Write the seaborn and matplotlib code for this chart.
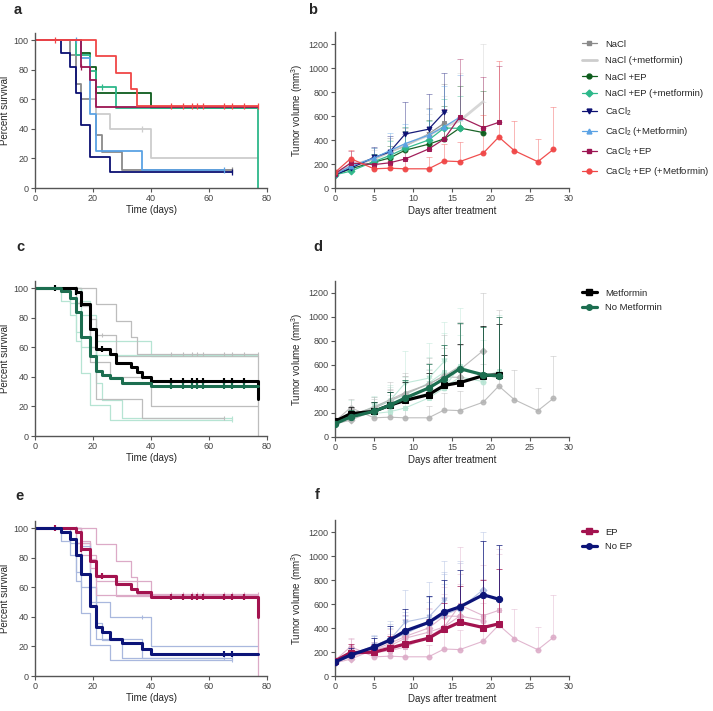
import numpy as np
import matplotlib
matplotlib.use("Agg")
import matplotlib.pyplot as plt
from matplotlib.lines import Line2D
import seaborn as sns

sns.set_style("white")
plt.rcParams['font.family'] = ['Liberation Sans', 'DejaVu Sans']
plt.rcParams['mathtext.default'] = 'regular'

# ---------------- Survival data (Kaplan-Meier steps) ----------------
groups = ["NaCl", "NaCl (+metformin)", "NaCl +EP", "NaCl +EP (+metformin)",
          "CaCl$_2$", "CaCl$_2$ (+Metformin)", "CaCl$_2$ +EP", "CaCl$_2$ +EP (+Metformin)"]
colors = ["#8a8a8a", "#cdcdcd", "#0d5c1c", "#2db88a",
          "#0b0f72", "#5ba2e4", "#9c1452", "#f04646"]
metformin = [False, True, False, True, False, True, False, True]
ep = [False, False, True, True, False, False, True, True]

km_t = [
    [0, 12, 14, 16, 21, 23, 30, 68],
    [0, 14, 19, 21, 26, 40, 77],
    [0, 16, 19, 21, 40, 77],
    [0, 14, 19, 21, 28, 77],
    [0, 9, 12, 14, 16, 19, 26, 68],
    [0, 16, 19, 21, 37, 65],
    [0, 16, 19, 21, 77],
    [0, 21, 28, 33, 35, 77],
]
km_s = [
    [100, 90, 70, 60, 36, 24, 12, 12],
    [100, 90, 60, 50, 40, 20, 20],
    [100, 91, 82, 64, 54, 54],
    [100, 90, 79, 68, 54, 0],
    [100, 91, 82, 64, 42.5, 21, 10.6, 10.6],
    [100, 88, 50, 25, 12.5, 12.5],
    [100, 82, 73, 54.5, 54.5],
    [100, 89, 78, 67, 55.5, 55.5],
]
censor_t = [
    [68], [37], [], [23], [68], [14, 65], [16],
    [7, 47, 51, 54, 56, 58, 65, 68, 72, 77],
]

met_t = [0, 14, 16, 19, 21, 26, 28, 33, 35, 37, 40, 77]
met_s = [100, 97, 89, 72.5, 58.5, 55.5, 49.5, 46.5, 43, 40, 37, 25]
met_c = [7, 14, 16, 23, 47, 51, 54, 56, 58, 65, 68, 72]
nomet_t = [0, 9, 12, 14, 16, 19, 21, 23, 26, 30, 40, 77]
nomet_s = [100, 98, 93.5, 84, 67, 54, 44, 41.5, 39, 36, 33.5, 33.5]
nomet_c = [47, 51, 54, 56, 58, 65, 68, 72]

ep_t = [0, 14, 16, 19, 21, 28, 33, 35, 40, 77]
ep_s = [100, 97.3, 85.5, 78, 67.5, 62, 59, 56.5, 53.5, 40]
ep_c = [7, 16, 23, 47, 51, 54, 56, 58, 65, 68, 72]
noep_t = [0, 9, 12, 14, 16, 19, 21, 23, 26, 30, 37, 40, 77]
noep_s = [100, 97.5, 92.5, 82, 69, 47, 33, 30, 25, 22, 18.5, 15, 15]
noep_c = [65, 68]

# ---------------- Tumour volume data ----------------
days = [0, 2, 5, 7, 9, 12, 14, 16, 19, 21, 23, 26, 28]
vol = [
    [120, 180, 240, 300, 350, 450, 540],
    [120, 190, 240, 300, 360, 440, 510, 560, 720],
    [110, 160, 215, 250, 315, 365, 410, 500, 462],
    [110, 140, 220, 270, 330, 400, 500, 497],
    [110, 165, 255, 300, 450, 490, 630],
    [115, 180, 250, 310, 370, 440, 510, 590],
    [120, 208, 195, 210, 242, 325, 408, 592, 503, 547],
    [130, 245, 160, 165, 160, 160, 225, 220, 290, 425, 311, 219, 322],
]
err = [
    [20, 60, 90, 120, 150, 220, 330],
    [20, 50, 80, 100, 150, 180, 260, 400, 480],
    [20, 40, 70, 100, 160, 200, 270, 350, 350],
    [20, 40, 60, 120, 180, 160, 240, 270],
    [20, 60, 90, 130, 270, 295, 330],
    [20, 50, 80, 150, 160, 220, 340, 350],
    [20, 100, 60, 90, 80, 140, 250, 480, 420, 470],
    [20, 75, 60, 60, 80, 100, 140, 165, 320, 635, 250, 190, 350],
]
markers = ["s", "D", "o", "D", "v", "^", "s", "o"]

met_vol = [130, 194, 214, 264, 305, 353, 430, 453, 511, 519]
met_err = [25, 60, 80, 110, 150, 180, 250, 320, 410, 420]
nomet_vol = [110, 167, 214, 264, 325, 408, 486, 569, 519, 508]
nomet_err = [25, 60, 80, 110, 150, 200, 280, 380, 400, 490]
ep_vol = [125, 195, 198, 231, 267, 315, 390, 448, 404, 435]
ep_err = [25, 70, 70, 100, 120, 160, 220, 300, 400, 455]
noep_vol = [117, 175, 240, 298, 376, 446, 532, 576, 677, 640]
noep_err = [25, 60, 80, 120, 180, 220, 270, 310, 445, 450]

W, H = 713, 711
fig = plt.figure(figsize=(W / 100, H / 100), dpi=100)


def axes_px(x0, x1, y_bottom, y_top):
    return fig.add_axes([x0 / W, 1 - y_bottom / H, (x1 - x0) / W, (y_bottom - y_top) / H])


SP = "#555555"


def style(ax):
    sns.despine(ax=ax)
    for s in ["left", "bottom"]:
        ax.spines[s].set_color(SP)
        ax.spines[s].set_linewidth(1.0)
    ax.tick_params(axis="both", direction="out", length=3, width=0.8, color=SP,
                   labelsize=6.5, labelcolor="#444444", pad=1.5)
    ax.tick_params(left=True, bottom=True)


def step_val(t, s, x):
    idx = np.searchsorted(np.array(t), x, side="right") - 1
    return s[max(idx, 0)]


def km(ax, t, s, c, lw, cens, ms=4):
    sns.lineplot(x=t, y=s, ax=ax, color=c, lw=lw, drawstyle="steps-post",
                 sort=False, estimator=None)
    if cens:
        cy = [step_val(t, s, x) for x in cens]
        ax.plot(cens, cy, ls="none", marker="|", ms=ms, mew=max(lw * 0.7, 0.8), color=c)


def surv_axes(ax):
    style(ax)
    ax.set_xlim(0, 80)
    ax.set_ylim(0, 105)
    ax.set_xticks([0, 20, 40, 60, 80])
    ax.set_yticks([0, 20, 40, 60, 80, 100])
    ax.set_xlabel("Time (days)", fontsize=7, labelpad=1)
    ax.set_ylabel("Percent survival", fontsize=7, labelpad=3)


def vol_line(ax, y, e, c, m, lw, ms, elw, alpha=1.0, ealpha=1.0, z=2):
    d = days[:len(y)]
    ax.errorbar(d, y, yerr=[np.zeros(len(e)), e], fmt="none", ecolor=c,
                elinewidth=elw, capsize=2.5, capthick=elw, alpha=ealpha, zorder=z)
    sns.lineplot(x=d, y=y, ax=ax, color=c, lw=lw, marker=m, markersize=ms,
                 markeredgecolor=c, alpha=alpha, zorder=z + 0.5, sort=False, estimator=None)


def vol_axes(ax):
    style(ax)
    ax.set_xlim(0, 30)
    ax.set_ylim(0, 1300)
    ax.set_xticks([0, 5, 10, 15, 20, 25, 30])
    ax.set_yticks([0, 200, 400, 600, 800, 1000, 1200])
    ax.set_xlabel("Days after treatment", fontsize=7, labelpad=2)
    ax.set_ylabel("Tumor volume (mm$^3$)", fontsize=7, labelpad=3)


# ---------------- Panel a ----------------
axa = axes_px(35, 267, 188, 32.6)
for i in range(8):
    km(axa, km_t[i], km_s[i], colors[i], 1.3, censor_t[i])
surv_axes(axa)

# ---------------- Panel b ----------------
axb = axes_px(335, 569, 188, 32)
for i in range(8):
    if i == 1:
        vol_line(axb, vol[i], err[i], colors[i], None, 2.0, 0, 0.6, alpha=0.8, ealpha=0.5)
    else:
        vol_line(axb, vol[i], err[i], colors[i], markers[i], 0.9, 3.5, 0.6,
                 alpha=0.95, ealpha=0.45)
vol_axes(axb)
handles = []
for i in range(8):
    if i == 1:
        handles.append(Line2D([], [], color=colors[i], lw=2.0))
    else:
        handles.append(Line2D([], [], color=colors[i], lw=0.9, marker=markers[i], ms=3.5))
axb.legend(handles, groups, loc="upper left", bbox_to_anchor=(578 / W, 1 - 36 / H),
           bbox_transform=fig.transFigure, frameon=False, fontsize=6.8,
           handlelength=1.6, handletextpad=0.9, labelspacing=0.78, borderaxespad=0)

# ---------------- Panel c ----------------
axc = axes_px(35, 267, 436, 280.6)
for i in range(8):
    c = "#bdbdbd" if metformin[i] else "#b6e4d3"
    km(axc, km_t[i], km_s[i], c, 0.9, censor_t[i], ms=3)
km(axc, met_t, met_s, "#000000", 2.2, met_c)
km(axc, nomet_t, nomet_s, "#1c6e50", 2.2, nomet_c)
surv_axes(axc)

# ---------------- Panel d ----------------
axd = axes_px(335, 569, 437, 281)
for i in range(8):
    c = "#b3b3b3" if metformin[i] else "#b6e4d3"
    vol_line(axd, vol[i], err[i], c, markers[i], 0.8, 3.5, 0.5, alpha=0.85, ealpha=0.6, z=1)
vol_line(axd, met_vol, met_err, "#000000", "s", 2.3, 4.5, 0.7, ealpha=0.7, z=3)
vol_line(axd, nomet_vol, nomet_err, "#1c6e50", "o", 2.3, 4.5, 0.7, ealpha=0.7, z=3)
vol_axes(axd)
hd = [Line2D([], [], color="#000000", lw=2.3, marker="s", ms=4),
      Line2D([], [], color="#1c6e50", lw=2.3, marker="o", ms=4)]
axd.legend(hd, ["Metformin", "No Metformin"], loc="upper left",
           bbox_to_anchor=(578 / W, 1 - 285 / H), bbox_transform=fig.transFigure,
           frameon=False, fontsize=6.8, handlelength=1.6, handletextpad=0.9,
           labelspacing=0.55, borderaxespad=0)

# ---------------- Panel e ----------------
axe = axes_px(35, 267, 676, 520.6)
for i in range(8):
    c = "#dcaac7" if ep[i] else "#a9b8de"
    km(axe, km_t[i], km_s[i], c, 0.9, censor_t[i], ms=3)
km(axe, ep_t, ep_s, "#a3134f", 2.2, ep_c)
km(axe, noep_t, noep_s, "#0c1478", 2.2, noep_c)
surv_axes(axe)

# ---------------- Panel f ----------------
axf = axes_px(335, 569, 676, 520)
for i in range(8):
    c = "#dcaac7" if ep[i] else "#a9b8de"
    vol_line(axf, vol[i], err[i], c, markers[i], 0.8, 3.5, 0.5, alpha=0.85, ealpha=0.6, z=1)
vol_line(axf, ep_vol, ep_err, "#a3134f", "s", 2.3, 4.5, 0.7, ealpha=0.7, z=3)
vol_line(axf, noep_vol, noep_err, "#0c1478", "o", 2.3, 4.5, 0.7, ealpha=0.7, z=3)
vol_axes(axf)
hf = [Line2D([], [], color="#a3134f", lw=2.3, marker="s", ms=4),
      Line2D([], [], color="#0c1478", lw=2.3, marker="o", ms=4)]
axf.legend(hf, ["EP", "No EP"], loc="upper left",
           bbox_to_anchor=(578 / W, 1 - 524 / H), bbox_transform=fig.transFigure,
           frameon=False, fontsize=6.8, handlelength=1.6, handletextpad=0.9,
           labelspacing=0.55, borderaxespad=0)

# panel letters
for lab, x, y in [("a", 18, 10), ("b", 313, 10), ("c", 20, 247),
                  ("d", 318, 247), ("e", 20, 496), ("f", 317, 495)]:
    fig.text(x / W, 1 - y / H, lab, fontsize=10.5, fontweight="bold",
             ha="center", va="center")

fig.savefig("out.png", dpi=100)
